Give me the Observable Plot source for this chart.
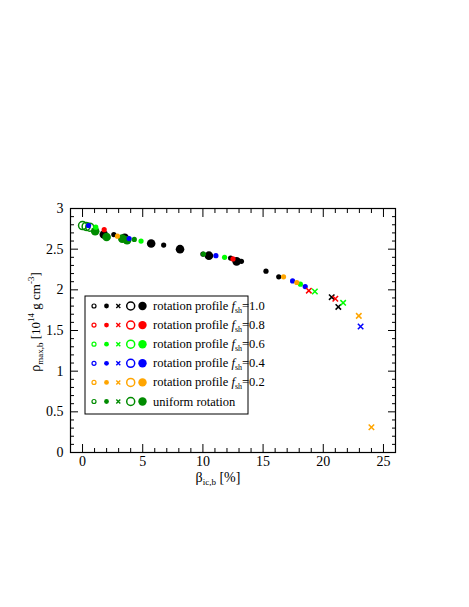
<!DOCTYPE html>
<html><head><meta charset="utf-8">
<script src="https://cdn.jsdelivr.net/npm/d3@7"></script>
<script src="https://cdn.jsdelivr.net/npm/@observablehq/plot@0.6"></script>
<style>
body{margin:0;background:#fff}
</style>
</head><body><div id="chart"></div>
<script>
const SERIF = "Liberation Serif";
// series (rotation profile f_sh)
const seriesKeys = ["1.0", "0.8", "0.6", "0.4", "0.2", "uniform"];
const seriesColors = ["#000000", "#ff0000", "#00ff00", "#0000ff", "#ffa500", "#008b00"];
const markerKinds = ["so", "sf", "x", "bo", "bf"]; // small open, small filled, cross, big open, big filled

// f_sh = 1.0 (black)
const f10Beta = [1.77, 2.6, 3.5, 5.7, 6.74, 8.1, 10.0, 10.5, 12.3, 12.8, 13.2, 15.24, 16.3, 20.7, 21.25];
const f10Rho  = [2.68, 2.68, 2.64, 2.57, 2.55, 2.50, 2.44, 2.42, 2.39, 2.35, 2.35, 2.23, 2.16, 1.91, 1.79];
const f10Mark = ["bf", "sf", "bf", "bf", "sf", "bf", "sf", "bf", "sf", "bf", "sf", "sf", "sf", "x", "x"];
// f_sh = 0.8 (red)
const f08Beta = [1.8, 12.5, 18.8, 21.0];
const f08Rho  = [2.74, 2.38, 1.99, 1.89];
const f08Mark = ["sf", "sf", "x", "x"];
// f_sh = 0.6 (light green)
const f06Beta = [1.1, 4.86, 11.8, 18.1, 19.3, 21.65];
const f06Rho  = [2.77, 2.60, 2.40, 2.07, 1.98, 1.84];
const f06Mark = ["sf", "sf", "sf", "sf", "x", "x"];
// f_sh = 0.4 (blue)
const f04Beta = [0.5, 3.87, 11.08, 17.45, 18.5, 23.1];
const f04Rho  = [2.79, 2.63, 2.42, 2.11, 2.04, 1.55];
const f04Mark = ["sf", "sf", "sf", "sf", "sf", "x"];
// f_sh = 0.2 (orange)
const f02Beta = [2.9, 16.7, 17.8, 22.95, 24.0];
const f02Rho  = [2.66, 2.16, 2.09, 1.68, 0.31];
const f02Mark = ["sf", "sf", "sf", "x", "x"];
// uniform rotation (dark green)
const uniBeta = [0.0, 0.3, 0.6, 1.05, 2.0, 3.3, 3.7, 4.3, 10.05];
const uniRho  = [2.79, 2.78, 2.77, 2.72, 2.65, 2.63, 2.61, 2.62, 2.44];
const uniMark = ["bo", "bo", "bo", "bf", "bf", "bf", "bf", "sf", "sf"];

const xMajor = [0, 5, 10, 15, 20, 25];
const yMajor = [0, 0.5, 1, 1.5, 2, 2.5, 3];
const xDomain = [-1, 26];
const yDomain = [0, 3];

const seriesData = [
  [f10Beta, f10Rho, f10Mark], [f08Beta, f08Rho, f08Mark], [f06Beta, f06Rho, f06Mark],
  [f04Beta, f04Rho, f04Mark], [f02Beta, f02Rho, f02Mark], [uniBeta, uniRho, uniMark]
];
const rows = [];
seriesData.forEach(([xs, ys, ms], i) => xs.forEach((x, j) => rows.push({s: seriesKeys[i], x, y: ys[j], m: ms[j]})));

const xMinor = d3.range(-1, 26.001, 1).filter(v => v % 5 !== 0);
const yMinor = d3.range(0, 31).map(v => v / 10).filter((v, i) => i % 5 !== 0);
const none = () => "";

const plot = Plot.plot({
  width: 469, height: 607,
  marginLeft: 70, marginRight: 74, marginTop: 208, marginBottom: 155,
  x: {domain: xDomain, label: null},
  y: {domain: yDomain, label: null},
  color: {domain: seriesKeys, range: seriesColors},
  style: {fontSize: "14px", color: "#000", background: "#fff"},
  marks: [
    Plot.axisX(xMajor, {anchor: "bottom", tickSize: 0, tickPadding: 4, tickFormat: d => String(d), fontSize: 14}),
    Plot.axisY(yMajor, {anchor: "left", tickSize: 0, tickPadding: 7, tickFormat: d => String(d), fontSize: 14}),
    Plot.axisX(xMajor, {anchor: "bottom", tickSize: -8, tickFormat: none}),
    Plot.axisX(xMajor, {anchor: "top", tickSize: -8, tickFormat: none}),
    Plot.axisX(xMinor, {anchor: "bottom", tickSize: -4, tickFormat: none}),
    Plot.axisX(xMinor, {anchor: "top", tickSize: -4, tickFormat: none}),
    Plot.axisY(yMajor, {anchor: "left", tickSize: -8, tickFormat: none}),
    Plot.axisY(yMajor, {anchor: "right", tickSize: -8, tickFormat: none}),
    Plot.axisY(yMinor, {anchor: "left", tickSize: -4, tickFormat: none}),
    Plot.axisY(yMinor, {anchor: "right", tickSize: -4, tickFormat: none}),
    Plot.frame({stroke: "#000", strokeWidth: 1.2}),
    Plot.dot(rows.filter(d => d.m === "bo"), {x: "x", y: "y", r: 4, stroke: "s", fill: "none", strokeWidth: 1.5}),
    Plot.dot(rows.filter(d => d.m === "bf"), {x: "x", y: "y", r: 4.3, fill: "s"}),
    Plot.dot(rows.filter(d => d.m === "so"), {x: "x", y: "y", r: 2, stroke: "s", fill: "none", strokeWidth: 1.2}),
    Plot.dot(rows.filter(d => d.m === "sf"), {x: "x", y: "y", r: 2.6, fill: "s"}),
    Plot.dot(rows.filter(d => d.m === "x"), {x: "x", y: "y", r: 2.6, symbol: "times", stroke: "s", strokeWidth: 1.5})
  ]
});
document.getElementById("chart").appendChild(plot);

// axis titles
const svg = d3.select(plot);
svg.attr("font-family", SERIF).style("font-family", SERIF);
const yl = svg.append("text").attr("transform", "translate(40,322) rotate(-90)")
  .attr("text-anchor", "middle").attr("font-size", 13).attr("fill", "#000");
yl.append("tspan").attr("font-size", 14).text("ρ");
yl.append("tspan").attr("font-size", 9).attr("dy", 3).text("max,b");
yl.append("tspan").attr("dy", -3).text(" [10");
yl.append("tspan").attr("font-size", 9).attr("dy", -6).text("14");
yl.append("tspan").attr("dy", 6).text(" g cm");
yl.append("tspan").attr("font-size", 9).attr("dy", -6).text("-3");
yl.append("tspan").attr("dy", 6).text("]");

const xl = svg.append("text").attr("x", 218).attr("y", 482)
  .attr("text-anchor", "middle").attr("font-size", 14).attr("fill", "#000");
xl.append("tspan").text("β");
xl.append("tspan").attr("font-size", 9).attr("dy", 3).text("ic,b");
xl.append("tspan").attr("dy", -3).text(" [%]");

// legend
const legendLabels = ["1.0", "0.8", "0.6", "0.4", "0.2"];
const lg = svg.append("g").attr("text-anchor", "start");
lg.append("rect").attr("x", 85).attr("y", 296).attr("width", 163).attr("height", 118)
  .attr("fill", "#fff").attr("stroke", "#000").attr("stroke-width", 1);
seriesKeys.forEach((k, i) => {
  const yy = 306 + i * 19.1;
  const c = seriesColors[i];
  lg.append("circle").attr("cx", 94).attr("cy", yy).attr("r", 2).attr("fill", "none").attr("stroke", c).attr("stroke-width", 1.2);
  lg.append("circle").attr("cx", 106.5).attr("cy", yy).attr("r", 2.4).attr("fill", c);
  lg.append("path").attr("d", `M${118.3 - 2},${yy - 2}L${118.3 + 2},${yy + 2}M${118.3 - 2},${yy + 2}L${118.3 + 2},${yy - 2}`)
    .attr("stroke", c).attr("stroke-width", 1.4);
  lg.append("circle").attr("cx", 130.7).attr("cy", yy).attr("r", 4).attr("fill", "none").attr("stroke", c).attr("stroke-width", 1.5);
  lg.append("circle").attr("cx", 142.5).attr("cy", yy).attr("r", 4.2).attr("fill", c);
  const t = lg.append("text").attr("x", 153).attr("y", yy + 4).attr("font-size", 12.5)
    .attr("text-anchor", "start").attr("fill", "#000");
  if (k === "uniform") {
    t.text("uniform rotation");
  } else {
    t.append("tspan").text("rotation profile ");
    t.append("tspan").attr("font-style", "italic").text("f");
    t.append("tspan").attr("font-size", 8).attr("dy", 3).text("sh");
    t.append("tspan").attr("dy", -3).text("=" + legendLabels[i]);
  }
});
// force serif font on every text element and group
svg.selectAll("g, text").attr("font-family", SERIF).style("font-family", SERIF);
</script>
</body></html>
